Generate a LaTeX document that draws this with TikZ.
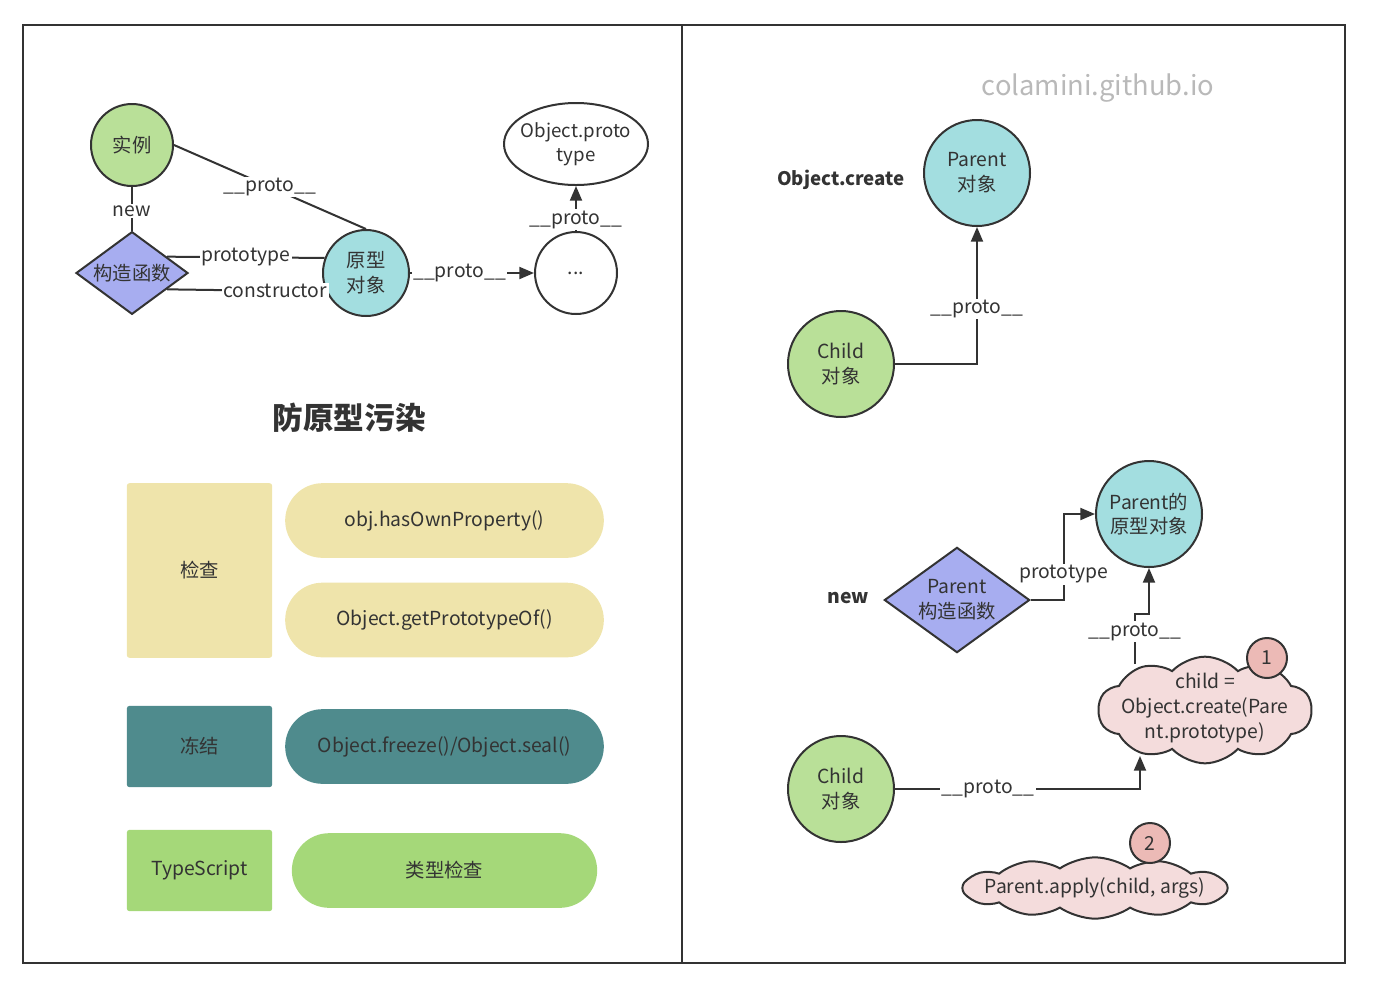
\documentclass[tikz,border=0pt]{standalone}
\usepackage{fontspec}
\setmainfont{Noto Sans CJK SC}
\usetikzlibrary{arrows.meta,shapes.geometric,shapes.symbols}

\definecolor{ink}{RGB}{51,51,51}
\definecolor{leaf}{RGB}{185,224,152}
\definecolor{aqua}{RGB}{163,222,224}
\definecolor{lilac}{RGB}{167,173,240}
\definecolor{blush}{RGB}{244,220,220}
\definecolor{rosy}{RGB}{236,186,182}
\definecolor{sand}{RGB}{239,228,171}
\definecolor{sea}{RGB}{79,139,141}
\definecolor{lime}{RGB}{165,216,121}
\definecolor{mist}{RGB}{185,185,185}

\tikzset{
  ball/.style={circle, draw=ink, line width=1.5pt, inner sep=0pt, align=center, text=ink,
    font=\fontsize{14.5pt}{18.5pt}\selectfont},
  gem/.style={diamond, aspect=1.37, draw=ink, line width=1.5pt, fill=lilac, inner sep=0pt, align=center, text=ink,
    font=\fontsize{14.5pt}{18.5pt}\selectfont},
  puff/.style={cloud, draw=ink, line width=1.5pt, fill=blush},
  tag/.style={circle, draw=ink, line width=1.5pt, fill=rosy, minimum size=30pt, inner sep=0pt, text=ink},
  lbl/.style={fill=white, inner sep=1pt, text=ink},
  link/.style={draw=ink, line width=1.5pt},
  arr/.style={link, -{Triangle[length=11pt,width=9pt]}},
  tile/.style={rounded corners=2pt, inner sep=0pt, text=ink},
  pill/.style={rounded corners=28pt, inner sep=0pt, text=ink, minimum height=56pt},
}

\begin{document}
\begin{tikzpicture}[x=0.75pt, y=-0.75pt, font=\fontsize{14.5pt}{17pt}\selectfont]
\useasboundingbox (0,0) rectangle (1378,990);
% draw the frame
\draw[ink, line width=2pt] (23,25) rectangle (1345,963);
\draw[ink, line width=2pt] (682,25) -- (682,963);

% left: prototype chain
\node[ball, fill=leaf, minimum size=61.5pt] (inst) at (132,145) {实例};
\node[gem, minimum width=84pt, minimum height=62pt] (ctor) at (132,273) {构造函数};
\node[ball, fill=aqua, minimum size=64.5pt] (proto) at (366,273) {原型\\对象};
\node[ball, fill=white, minimum size=61.5pt] (dots) at (576,273) {...};
\node[ellipse, draw=ink, line width=1.5pt, fill=white, minimum width=108pt, minimum height=61.5pt,
  inner xsep=-8pt, inner ysep=0pt, align=center, text=ink, font=\fontsize{14pt}{18pt}\selectfont] (objp) at (576,144) {Object.proto\\type};

\draw[link] (inst) -- node[lbl, pos=0.55] {new} (ctor);
\draw[link] (inst.east) -- node[lbl] {\_\_proto\_\_} (proto.north);
\draw[link] (ctor.25) -- node[lbl] {prototype} (proto.160);
\draw[link] (ctor.-25) -- node[lbl, pos=0.68] {constructor} (proto.-155);
\draw[arr] (proto) -- node[lbl, pos=0.4] {\_\_proto\_\_} (dots);
\draw[arr] (dots) -- node[lbl, pos=0.25] {\_\_proto\_\_} (objp);

% left: defences
\node[font=\bfseries\fontsize{23pt}{27pt}\selectfont, text=ink] (ttl) at (349,418) {防原型污染};
\node[tile, fill=sand, minimum width=109pt, minimum height=131pt] (chk) at (199.5,570.5) {检查};
\node[pill, fill=sand, minimum width=239pt] (own) at (444.5,520.5) {obj.hasOwnProperty()};
\node[pill, fill=sand, minimum width=239pt] (gpo) at (444.5,620) {Object.getPrototypeOf()};
\node[tile, fill=sea, minimum width=109pt, minimum height=61pt] (frz) at (199.5,746.5) {冻结};
\node[pill, fill=sea, minimum width=239pt] (fs) at (444.5,746.5) {Object.freeze()/Object.seal()};
\node[tile, fill=lime, minimum width=109pt, minimum height=61pt] (ts) at (199.5,870.5) {TypeScript};
\node[pill, fill=lime, minimum width=229pt] (tc) at (444.5,870.5) {类型检查};

% right: Object.create
\node[text=mist, font=\fontsize{20.5pt}{24pt}\selectfont] (wm) at (1098,88) {colamini.github.io};
\node[font=\bfseries\fontsize{14pt}{17pt}\selectfont, text=ink] (oc) at (841,180) {Object.create};
\node[ball, fill=aqua, minimum size=79.5pt] (par) at (977,173) {Parent\\对象};
\node[ball, fill=leaf, minimum size=79.5pt] (kid) at (841,364) {Child\\对象};
\draw[arr] (kid) -| node[lbl, pos=0.7] {\_\_proto\_\_} (par);

% right: new
\node[font=\bfseries\fontsize{14.5pt}{17pt}\selectfont, text=ink] (nw) at (848,598) {new};
\node[gem, minimum width=109pt, minimum height=79pt] (pctor) at (957,600) {Parent\\构造函数};
\node[ball, fill=aqua, minimum size=79.5pt] (pproto) at (1149,514) {Parent的\\原型对象};
\draw[arr] (pctor.east) -- ++(33,0) |- node[lbl, pos=0.15] {prototype} (pproto);

\node[puff, cloud puffs=10, cloud puff arc=95, minimum width=160pt, minimum height=80pt] (c1) at (1205,710) {};
\node[align=center, text=ink, font=\fontsize{14.5pt}{19pt}\selectfont] (c1t) at (1205,708)
  {child =\\Object.create(Pare\\nt.prototype)};
\node[tag] (b1) at (1267,658) {1};
\coordinate (c1top) at (1135,664);
\draw[arr] (c1top) -- node[lbl, pos=0.65] {\_\_proto\_\_} ++(0,-50) -| (pproto);

\node[ball, fill=leaf, minimum size=79.5pt] (kid2) at (841,789) {Child\\对象};
\coordinate (c1bot) at (1140,756);
\draw[arr] (kid2) -| node[lbl, pos=0.19] {\_\_proto\_\_} (c1bot);

\node[puff, cloud puffs=12, cloud puff arc=70, minimum width=199pt, minimum height=46pt] (c2) at (1095,888) {};
\node[text=ink] (c2t) at (1095,888) {Parent.apply(child, args)};
\node[tag] (b2) at (1150,843) {2};
\end{tikzpicture}
\end{document}
